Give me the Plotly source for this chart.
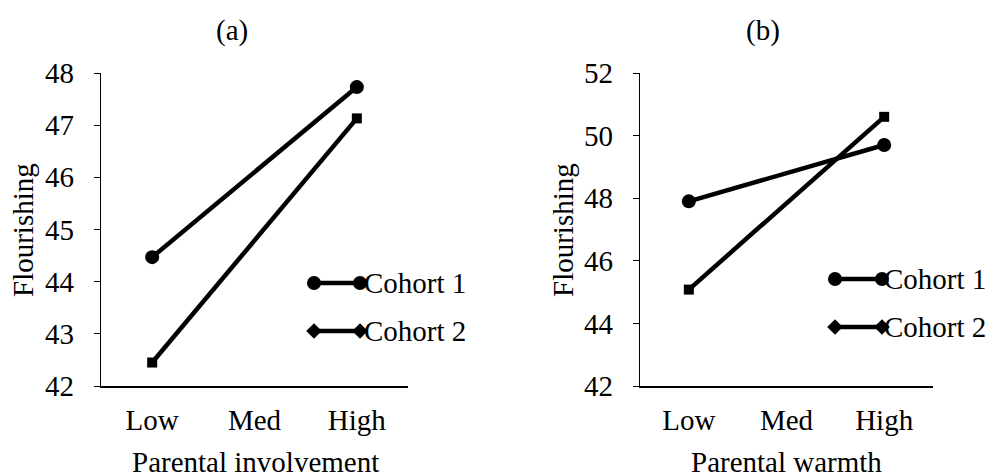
import plotly.graph_objects as go

categories = ["Low", "Med", "High"]
cat_points = ["Low", "High"]
cohort1_involvement = [44.47, 47.73]
cohort2_involvement = [42.45, 47.13]
cohort1_warmth = [47.9, 49.7]
cohort2_warmth = [45.08, 50.6]
series_names = ["Cohort 1", "Cohort 2"]

W, H = 991, 474
FONT = "Liberation Serif, Times New Roman, serif"
FS = 29

fig = go.Figure()

def add_series(xa, ya, y1, y2):
    fig.add_trace(go.Scatter(x=cat_points, y=y1, xaxis=xa, yaxis=ya, mode="lines+markers",
                             line=dict(color="black", width=4.5),
                             marker=dict(symbol="circle", size=14, color="black"),
                             showlegend=False, cliponaxis=False))
    fig.add_trace(go.Scatter(x=cat_points, y=y2, xaxis=xa, yaxis=ya, mode="lines+markers",
                             line=dict(color="black", width=4.5),
                             marker=dict(symbol="square", size=10, color="black"),
                             showlegend=False, cliponaxis=False))

add_series("x", "y", cohort1_involvement, cohort2_involvement)
add_series("x2", "y2", cohort1_warmth, cohort2_warmth)

# manual legends drawn on a pixel overlay axis
def add_legend(x0, x1, yc1, yc2, tx):
    for yc, sym, sz, name in [(yc1, "circle", 14, series_names[0]), (yc2, "diamond", 12, series_names[1])]:
        fig.add_trace(go.Scatter(x=[x0, x1], y=[H - yc, H - yc], xaxis="x3", yaxis="y3",
                                 mode="lines+markers", line=dict(color="black", width=4.5),
                                 marker=dict(symbol=sym, size=sz, color="black"),
                                 showlegend=False, cliponaxis=False, hoverinfo="skip"))
        fig.add_annotation(x=tx, y=H - yc, xref="x3", yref="y3", text=name, showarrow=False,
                           xanchor="left", yanchor="middle", font=dict(family=FONT, size=FS, color="black"))

add_legend(314, 360, 283, 331, 362)
add_legend(835, 882, 279, 327, 882)

ydom = [(H - 386) / H, (H - 73) / H]
axis_common = dict(showgrid=False, zeroline=False, linecolor="black", color="black", automargin=False,
                   tickfont=dict(family=FONT, size=FS, color="black"))
fig.update_layout(
    template="none",
    width=W, height=H, margin=dict(l=0, r=0, t=0, b=0, pad=0, autoexpand=False),
    paper_bgcolor="white", plot_bgcolor="rgba(0,0,0,0)", showlegend=False,
    xaxis=dict(domain=[101 / W, 408 / W], type="category", categoryorder="array",
               categoryarray=categories, tickvals=categories, range=[-0.5, 2.5],
               showline=True, linewidth=2, ticks="", ticklabelstandoff=7, anchor="y", **axis_common),
    yaxis=dict(domain=ydom, range=[42, 48], dtick=1, showline=True, linewidth=1.2,
               ticks="outside", ticklen=6, tickcolor="black", anchor="x", ticklabelstandoff=14, **axis_common),
    xaxis2=dict(domain=[640 / W, 933 / W], type="category", categoryorder="array",
                categoryarray=categories, tickvals=categories, range=[-0.5, 2.5],
                showline=True, linewidth=2, ticks="", ticklabelstandoff=7, anchor="y2", **axis_common),
    yaxis2=dict(domain=ydom, range=[42, 52], dtick=2, showline=True, linewidth=1.2,
                ticks="outside", ticklen=6, tickcolor="black", anchor="x2", ticklabelstandoff=14, **axis_common),
    xaxis3=dict(domain=[0, 1], range=[0, W], visible=False, fixedrange=True, automargin=False),
    yaxis3=dict(domain=[0, 1], range=[0, H], visible=False, fixedrange=True, anchor="x3", automargin=False),
)

for x, y, text, angle in [(232, 30, "(a)", 0), (763, 30, "(b)", 0),
                          (255, 462, "Parental involvement", 0), (786, 462, "Parental warmth", 0),
                          (23, 230, "Flourishing", -90), (563, 230, "Flourishing", -90)]:
    fig.add_annotation(x=x, y=H - y, xref="x3", yref="y3", text=text, showarrow=False,
                       xanchor="center", yanchor="middle", textangle=angle,
                       font=dict(family=FONT, size=FS, color="black"))

fig.write_html("out.html", config={"displayModeBar": False},
               post_script="document.body.style.margin='0';document.body.style.overflow='hidden';")
